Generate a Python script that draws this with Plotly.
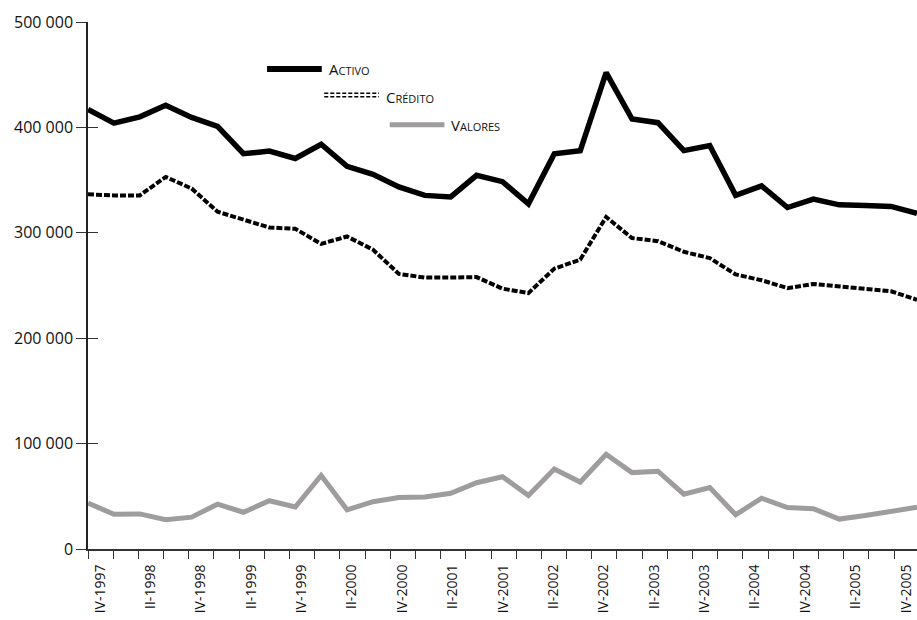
import plotly.graph_objects as go

# quarters, IV-1997 .. IV-2005
quarters = ["IV-1997",
            "I-1998", "II-1998", "III-1998", "IV-1998",
            "I-1999", "II-1999", "III-1999", "IV-1999",
            "I-2000", "II-2000", "III-2000", "IV-2000",
            "I-2001", "II-2001", "III-2001", "IV-2001",
            "I-2002", "II-2002", "III-2002", "IV-2002",
            "I-2003", "II-2003", "III-2003", "IV-2003",
            "I-2004", "II-2004", "III-2004", "IV-2004",
            "I-2005", "II-2005", "III-2005", "IV-2005"]

activo = [417000, 404000, 410000, 421000, 409500, 401000, 375000, 377500, 370500, 384000,
          363000, 355500, 343500, 335500, 334000, 354500, 348500, 327500, 375000, 377800,
          452000, 408000, 404500, 378000, 382800, 335500, 344500, 324000, 332000, 326500,
          325800, 325000, 318500]

credito = [336500, 335500, 335500, 353000, 342000, 320000, 312500, 305000, 303800, 289500,
           296500, 284000, 261000, 257500, 257500, 258000, 247000, 242800, 266000, 274500,
           315000, 295000, 292000, 282000, 276000, 260500, 255000, 247500, 251500, 249000,
           247000, 244500, 236500]

valores = [43500, 33000, 33300, 27800, 30200, 42500, 34900, 45800, 39800, 69800,
           37200, 44900, 48800, 49400, 52900, 62900, 68600, 50700, 75900, 63500,
           89900, 72500, 73800, 52000, 58300, 32500, 48200, 39300, 38200, 28400,
           31700, 35400, 39600]

y_ticks = [0, 100000, 200000, 300000, 400000, 500000]

FONT = "Open Sans"
GRAY = "#9f9c9c"
idx = list(range(len(quarters)))

fig = go.Figure()
fig.add_trace(go.Scatter(x=idx, y=activo, mode="lines", name="Activo",
                         line=dict(color="black", width=5.5), showlegend=False))
fig.add_trace(go.Scatter(x=idx, y=credito, mode="lines", name="Crédito",
                         line=dict(color="black", width=4, dash="6px,2px"), showlegend=False))
fig.add_trace(go.Scatter(x=idx, y=valores, mode="lines", name="Valores",
                         line=dict(color=GRAY, width=5), showlegend=False))
# carrier for the tick axis
fig.add_trace(go.Scatter(x=[0], y=[0], xaxis="x2", yaxis="y2", mode="markers",
                         marker=dict(opacity=0), showlegend=False, hoverinfo="skip"))

tick_text = [q if i % 2 == 0 else "" for i, q in enumerate(quarters)]

fig.update_layout(
    width=917, height=620,
    margin=dict(l=88, r=0, t=22, b=71, autoexpand=False),
    plot_bgcolor="white", paper_bgcolor="white",
    separators=", ",
    font=dict(family=FONT, size=15, color="#111"),
    xaxis=dict(range=[0, len(quarters) - 1], visible=False, showgrid=False, zeroline=False,
               automargin=False),
    xaxis2=dict(overlaying="x", anchor="y", side="bottom", automargin=False,
                range=[0, 32.91], tickmode="array", tickvals=idx, ticktext=tick_text,
                ticks="outside", ticklen=8, tickwidth=1.3, tickcolor="#333",
                tickangle=-90, ticklabelshift=12, ticklabelstandoff=0,
                showline=True, linecolor="#333", linewidth=2,
                showgrid=False, zeroline=False, tickfont=dict(size=14)),
    yaxis=dict(range=[0, 500000], tickvals=y_ticks, tickformat=",d", automargin=False,
               ticks="outside", ticklen=10, tickwidth=1.2, tickcolor="#333",
               showline=True, linecolor="#222", linewidth=1.5,
               showgrid=False, zeroline=False, tickfont=dict(size=16),
               ticklabelstandoff=0),
    yaxis2=dict(overlaying="y", anchor="x2", range=[0, 500000], tickvals=y_ticks,
                automargin=False,
                ticks="inside", ticklen=10, tickwidth=1.2, tickcolor="#333",
                showticklabels=False, showline=False, showgrid=False, zeroline=False),
)

# legend drawn staggered like the original
legend_items = [("Activo", dict(color="black", width=6, dash="solid"), 0.216, 0.911),
                ("Crédito", dict(color="black", width=1.5, dash="4px,2px"), 0.285, 0.858),
                ("Valores", dict(color=GRAY, width=5, dash="solid"), 0.364, 0.805)]
for name, ln, lx, ly in legend_items:
    fig.add_shape(type="line", xref="paper", yref="paper",
                  x0=lx, x1=lx + 0.066, y0=ly, y1=ly, line=ln)
    if name == "Crédito":
        fig.add_shape(type="line", xref="paper", yref="paper",
                      x0=lx, x1=lx + 0.066, y0=ly + 0.007, y1=ly + 0.007, line=ln)
    label = name[0] + "<span style='font-size:11px'>" + name[1:].upper() + "</span>"
    fig.add_annotation(xref="paper", yref="paper", x=lx + 0.072, y=ly,
                       xanchor="left", yanchor="middle", text=label, showarrow=False,
                       font=dict(family=FONT, size=15, color="#111"))

# drop the default body margin so the figure fills the window
fig.write_html("out.html", config={"displayModeBar": False},
               post_script="document.body.style.margin='0';document.body.style.overflow='hidden';")
